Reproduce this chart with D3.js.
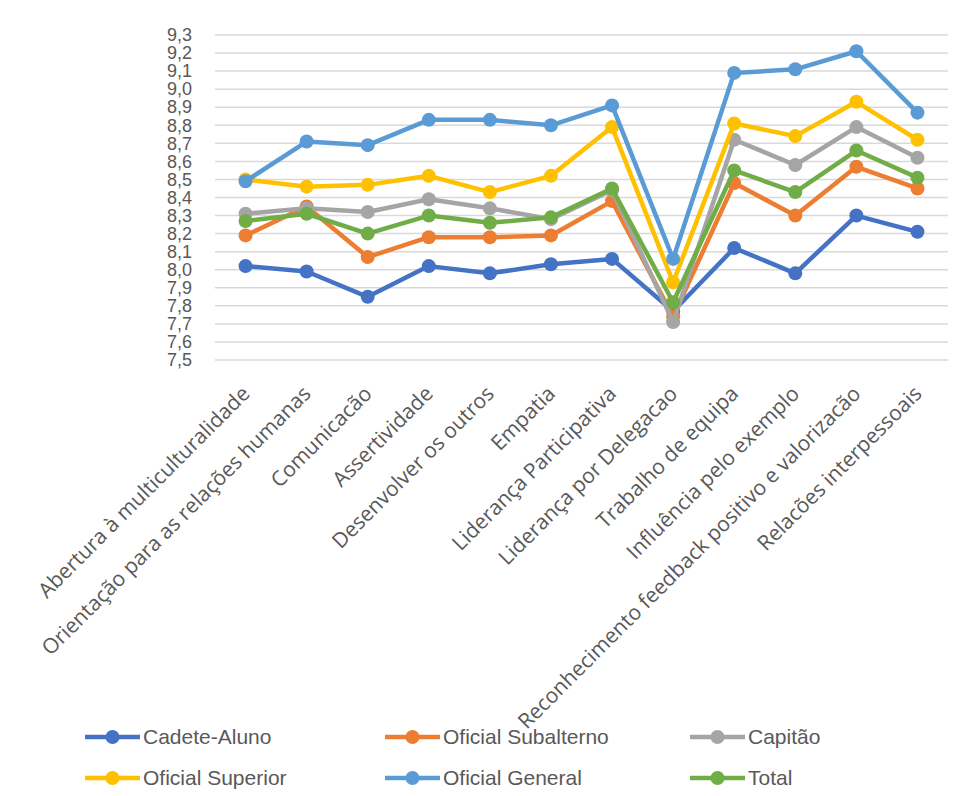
<!DOCTYPE html>
<html>
<head>
<meta charset="utf-8">
<script src="https://cdn.jsdelivr.net/npm/d3@7/dist/d3.min.js"></script>
<style>
  body { margin: 0; background: #fff; }
  svg { display: block; }
</style>
</head>
<body>
<div id="chart"></div>
<script>
var categories = [
    'Abertura à multiculturalidade',
    'Orientação para as relações humanas',
    'Comunicacão',
    'Assertividade',
    'Desenvolver os outros',
    'Empatia',
    'Liderança Participativa',
    'Liderança por Delegacao',
    'Trabalho de equipa',
    'Influência pelo exemplo',
    'Reconhecimento feedback positivo e valorizacão',
    'Relacões interpessoais'
];

var cadeteAluno      = [8.02, 7.99, 7.85, 8.02, 7.98, 8.03, 8.06, 7.77, 8.12, 7.98, 8.30, 8.21];
var oficialSubalterno = [8.19, 8.35, 8.07, 8.18, 8.18, 8.19, 8.38, 7.74, 8.48, 8.30, 8.57, 8.45];
var capitao          = [8.31, 8.34, 8.32, 8.39, 8.34, 8.28, 8.44, 7.71, 8.72, 8.58, 8.79, 8.62];
var oficialSuperior  = [8.50, 8.46, 8.47, 8.52, 8.43, 8.52, 8.79, 7.93, 8.81, 8.74, 8.93, 8.72];
var oficialGeneral   = [8.49, 8.71, 8.69, 8.83, 8.83, 8.80, 8.91, 8.06, 9.09, 9.11, 9.21, 8.87];
var total            = [8.27, 8.31, 8.20, 8.30, 8.26, 8.29, 8.45, 7.82, 8.55, 8.43, 8.66, 8.51];

var seriesNames  = ['Cadete-Aluno', 'Oficial Subalterno', 'Capitão', 'Oficial Superior', 'Oficial General', 'Total'];
var seriesColors = ['#4472C4', '#ED7D31', '#A5A5A5', '#FFC000', '#5B9BD5', '#70AD47'];
var yTicks = [7.5, 7.6, 7.7, 7.8, 7.9, 8.0, 8.1, 8.2, 8.3, 8.4, 8.5, 8.6, 8.7, 8.8, 8.9, 9.0, 9.1, 9.2, 9.3];

var seriesValues = [cadeteAluno, oficialSubalterno, capitao, oficialSuperior, oficialGeneral, total];

var width = 958, height = 796;
var margin = { top: 35, left: 215, right: 10, bottom: 436 };

var svg = d3.select('#chart').append('svg')
    .attr('width', width)
    .attr('height', height);

var xScale = d3.scalePoint()
    .domain(categories)
    .range([margin.left, width - margin.right])
    .padding(0.5);

var yScale = d3.scaleLinear()
    .domain([7.5, 9.3])
    .range([height - margin.bottom, margin.top]);

var fmt = d3.format('.1f');

// gridlines
svg.append('g')
    .selectAll('line')
    .data(yTicks)
    .enter().append('line')
    .attr('x1', margin.left)
    .attr('x2', width - margin.right)
    .attr('y1', function(d) { return yScale(d); })
    .attr('y2', function(d) { return yScale(d); })
    .attr('stroke', '#d9d9d9')
    .attr('stroke-width', 1.5);

// y axis labels
var yAxis = d3.axisLeft(yScale)
    .tickValues(yTicks)
    .tickSize(0)
    .tickPadding(0)
    .tickFormat(function(d) { return fmt(d).replace('.', ','); });

var yg = svg.append('g')
    .attr('transform', 'translate(192,0)')
    .call(yAxis);
yg.select('.domain').remove();
yg.selectAll('text')
    .attr('fill', '#595959')
    .style('font-family', '"Liberation Sans", Arial, sans-serif')
    .style('font-size', '18px');

// x axis labels, rotated like excel does
var xAxis = d3.axisBottom(xScale).tickSize(0).tickPadding(0);
var xg = svg.append('g')
    .attr('transform', 'translate(0,' + (height - margin.bottom) + ')')
    .call(xAxis);
xg.select('.domain').remove();
xg.selectAll('text')
    .attr('fill', '#595959')
    .attr('dy', null)
    .attr('y', 0)
    .attr('text-anchor', 'end')
    .attr('transform', 'translate(5,35) rotate(-45)')
    .style('font-family', '"Open Sans", sans-serif')
    .style('font-size', '21px');

// lines
var lineFunction = d3.line()
    .x(function(d, i) { return xScale(categories[i]); })
    .y(function(d) { return yScale(d); });

seriesValues.forEach(function(vals, s) {
    var g = svg.append('g');
    g.append('path')
        .attr('d', lineFunction(vals))
        .attr('fill', 'none')
        .attr('stroke', seriesColors[s])
        .attr('stroke-width', 4.5)
        .attr('stroke-linejoin', 'round');
    g.selectAll('circle')
        .data(vals)
        .enter().append('circle')
        .attr('cx', function(d, i) { return xScale(categories[i]); })
        .attr('cy', function(d) { return yScale(d); })
        .attr('r', 7)
        .attr('fill', seriesColors[s]);
});

// legend
var legendX = [85, 385, 690];
var legendY = [737, 778];
seriesNames.forEach(function(name, i) {
    var lx = legendX[i % 3], ly = legendY[Math.floor(i / 3)];
    var lg = svg.append('g').attr('transform', 'translate(' + lx + ',' + ly + ')');
    lg.append('line')
        .attr('x1', 0).attr('x2', 55)
        .attr('y1', 0).attr('y2', 0)
        .attr('stroke', seriesColors[i])
        .attr('stroke-width', 4.5);
    lg.append('circle')
        .attr('cx', 27.5).attr('cy', 0).attr('r', 7)
        .attr('fill', seriesColors[i]);
    lg.append('text')
        .attr('x', 58)
        .attr('y', 0)
        .attr('dy', '0.35em')
        .attr('fill', '#595959')
        .style('font-family', '"Liberation Sans", Arial, sans-serif')
        .style('font-size', '21px')
        .text(name);
});
</script>
</body>
</html>
